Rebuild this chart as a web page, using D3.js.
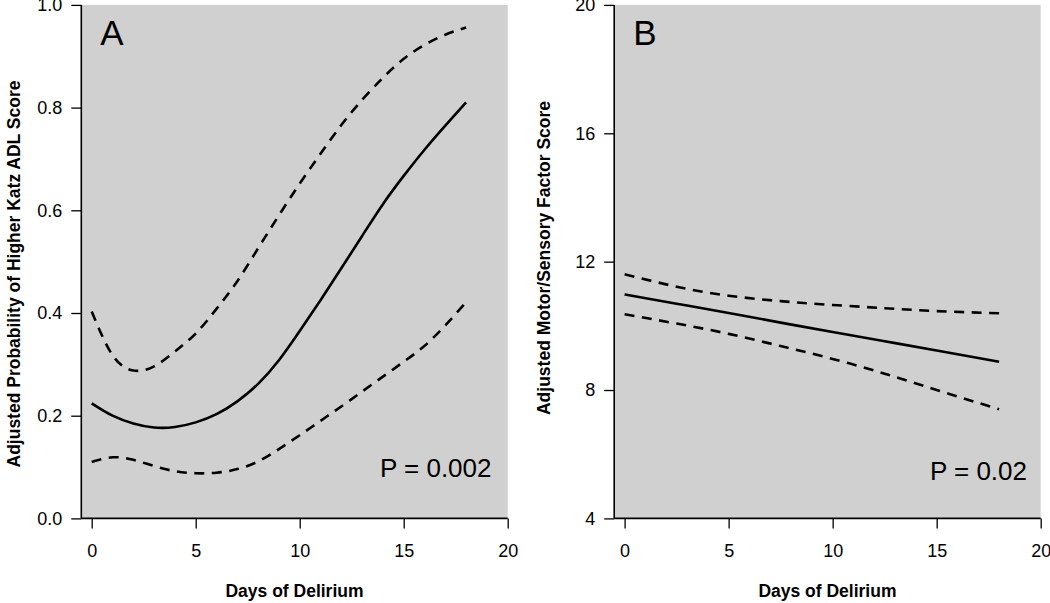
<!DOCTYPE html>
<html>
<head>
<meta charset="utf-8">
<script src="https://cdn.jsdelivr.net/npm/d3@7"></script>
<style>
  html, body { margin: 0; padding: 0; background: #ffffff; }
  svg { display: block; font-family: "Liberation Sans", Arial, Helvetica, sans-serif; }
</style>
</head>
<body>
<svg id="chart" width="1050" height="603"></svg>
<script>
// ---------- Data ----------
const daysA = [0,1,2,3,4,5,6,7,8,9,10,11,12,13,14,15,16,17,18];
const probFit   = [0.224,0.200,0.185,0.177,0.178,0.187,0.203,0.228,0.262,0.308,0.365,0.425,0.487,0.550,0.612,0.667,0.718,0.765,0.810];
const probUpper = [0.403,0.318,0.288,0.296,0.325,0.360,0.408,0.462,0.526,0.590,0.652,0.710,0.766,0.815,0.858,0.895,0.922,0.942,0.956];
const probLower = [0.110,0.119,0.114,0.102,0.092,0.088,0.089,0.096,0.111,0.135,0.162,0.190,0.218,0.247,0.276,0.305,0.336,0.376,0.421];

const daysB = [0,2.5,5,7.5,10,12.5,15,18];
const motorFit   = [10.98,10.69,10.40,10.10,9.81,9.52,9.23,8.88];
const motorUpper = [11.61,11.22,10.94,10.77,10.65,10.55,10.46,10.39];
const motorLower = [10.36,10.07,9.75,9.37,8.97,8.51,8.00,7.40];

const xTicks = [0,5,10,15,20];
const yTicksA = [0.0,0.2,0.4,0.6,0.8,1.0];
const yTicksB = [4,8,12,16,20];

const xLabel = "Days of Delirium";
const yLabelA = "Adjusted Probability of Higher Katz ADL Score";
const yLabelB = "Adjusted Motor/Sensory Factor Score";
const panelA = "A", panelB = "B";
const pA = "P = 0.002", pB = "P = 0.02";

// ---------- Drawing ----------
const svg = d3.select("#chart");
const plotTop = 4.9, plotBottom = 518.4;

function panel(cfg) {
  const x = d3.scaleLinear().domain([-0.5, 20]).range([cfg.left, cfg.right]);
  const y = d3.scaleLinear().domain(cfg.yDomain).range([plotBottom, plotTop]);
  const g = svg.append("g");

  g.append("rect")
    .attr("x", x(-0.5)).attr("y", y(cfg.yDomain[1]))
    .attr("width", x(20) - x(-0.5)).attr("height", y(cfg.yDomain[0]) - y(cfg.yDomain[1]))
    .attr("fill", "#d0d0d0");

  const line = d3.line().x(d => x(d[0])).y(d => y(d[1])).curve(d3.curveNatural);
  const series = [
    {v: cfg.upper, dash: "10,7.5"},
    {v: cfg.lower, dash: "10,7.5"},
    {v: cfg.fit, dash: null}
  ];
  series.forEach(s => {
    g.append("path")
      .datum(cfg.days.map((d, i) => [d, s.v[i]]))
      .attr("d", line)
      .attr("fill", "none")
      .attr("stroke", "#000")
      .attr("stroke-width", 2.6)
      .attr("stroke-dasharray", s.dash);
  });

  // x axis
  const xAxis = d3.axisBottom(x).tickValues(xTicks).tickSize(10).tickPadding(16).tickFormat(d3.format("d"));
  const gx = g.append("g").attr("transform", `translate(0,${plotBottom})`).call(xAxis);
  gx.select(".domain").attr("d", `M${x(-0.5)},0H${x(20)}`).attr("stroke", "#000").attr("stroke-width", 1.6);
  gx.selectAll(".tick line").attr("stroke", "#000").attr("stroke-width", 1.3);
  gx.selectAll(".tick text").attr("font-size", 18).attr("fill", "#000")
    .attr("font-family", "'Liberation Sans', Arial, sans-serif");

  // y axis
  const yAxis = d3.axisLeft(y).tickValues(cfg.yTicks).tickSize(10).tickPadding(9).tickFormat(cfg.fmt);
  const gy = g.append("g").attr("transform", `translate(${x(-0.5)},0)`).call(yAxis);
  gy.select(".domain").attr("d", `M0,${plotTop}V${plotBottom}`).attr("stroke", "#000").attr("stroke-width", 1.6);
  gy.selectAll(".tick line").attr("stroke", "#000").attr("stroke-width", 1.3);
  gy.selectAll(".tick text").attr("font-size", 18).attr("fill", "#000")
    .attr("font-family", "'Liberation Sans', Arial, sans-serif");

  // axis titles
  g.append("text")
    .attr("x", (x(-0.5) + x(20)) / 2).attr("y", 597)
    .attr("text-anchor", "middle").attr("font-size", 17.5).attr("font-weight", "bold")
    .text(xLabel);
  g.append("text")
    .attr("transform", `translate(${cfg.yTitleX},${cfg.yTitleMid}) rotate(-90)`)
    .attr("text-anchor", "middle").attr("font-size", 17.5).attr("font-weight", "bold")
    .text(cfg.yLabel);

  // panel letter
  g.append("text").attr("x", x(-0.5) + 19).attr("y", 44.5)
    .attr("font-size", 35).text(cfg.letter);
  // p value
  g.append("text").attr("x", cfg.pRight).attr("y", cfg.pBase)
    .attr("text-anchor", "end").attr("font-size", 26).text(cfg.pText);
}

panel({
  left: 81.3, right: 507.7, yDomain: [0, 1], yTicks: yTicksA, fmt: d3.format(".1f"),
  days: daysA, fit: probFit, upper: probUpper, lower: probLower,
  yLabel: yLabelA, yTitleX: 20, yTitleMid: 274, letter: panelA, pText: pA, pRight: 491.5, pBase: 476.7
});
panel({
  left: 614.2, right: 1040.7, yDomain: [4, 20], yTicks: yTicksB, fmt: d3.format("d"),
  days: daysB, fit: motorFit, upper: motorUpper, lower: motorLower,
  yLabel: yLabelB, yTitleX: 550, yTitleMid: 258, letter: panelB, pText: pB, pRight: 1027, pBase: 480
});
</script>
</body>
</html>
